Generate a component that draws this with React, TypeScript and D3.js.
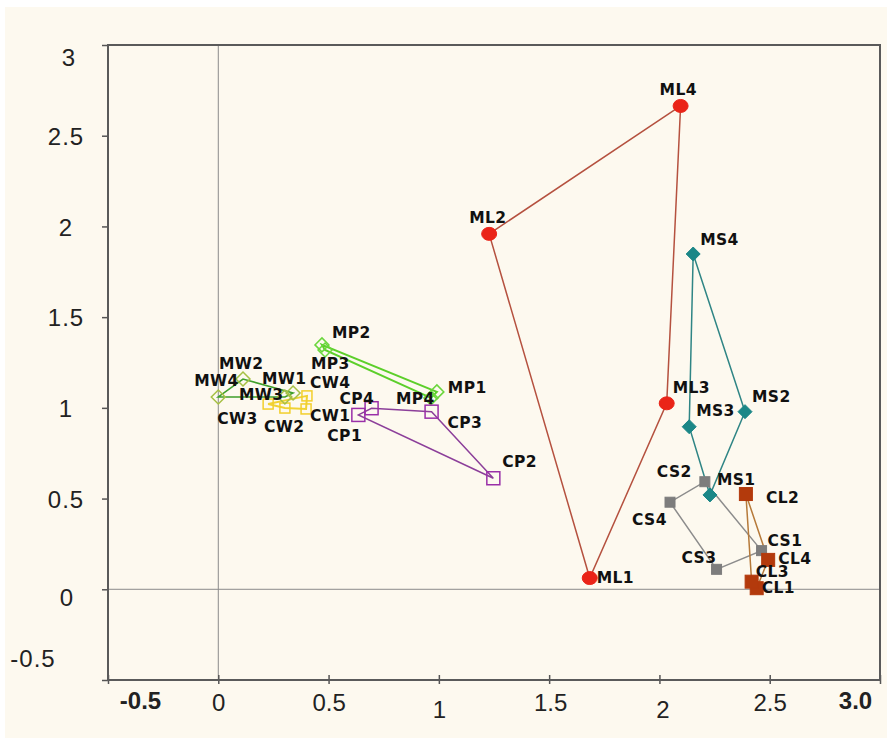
import React, { useEffect, useRef } from 'react';
import * as d3 from 'd3';

// point names and coordinates, one set per group
const mlNames = ['ML1', 'ML2', 'ML3', 'ML4'];
const mlX = [1.684, 1.228, 2.033, 2.096];
const mlY = [0.062, 1.959, 1.025, 2.664];

const msNames = ['MS1', 'MS2', 'MS3', 'MS4'];
const msX = [2.229, 2.388, 2.135, 2.153];
const msY = [0.52, 0.979, 0.896, 1.848];

const csNames = ['CS1', 'CS2', 'CS3', 'CS4'];
const csX = [2.463, 2.206, 2.259, 2.048];
const csY = [0.213, 0.593, 0.11, 0.48];

const clNames = ['CL1', 'CL2', 'CL3', 'CL4'];
const clX = [2.441, 2.392, 2.418, 2.493];
const clY = [0.006, 0.525, 0.042, 0.162];

const mpNames = ['MP1', 'MP2', 'MP3', 'MP4'];
const mpX = [0.991, 0.47, 0.484, 0.964];
const mpY = [1.088, 1.347, 1.319, 1.055];

const mwNames = ['MW1', 'MW2', 'MW3', 'MW4'];
const mwX = [0.339, 0.112, 0.302, 0.0];
const mwY = [1.082, 1.159, 1.06, 1.06];

const cwNames = ['CW1', 'CW2', 'CW3', 'CW4'];
const cwX = [0.398, 0.302, 0.226, 0.402];
const cwY = [0.994, 0.999, 1.021, 1.066];

const cpNames = ['CP1', 'CP2', 'CP3', 'CP4'];
const cpX = [0.635, 1.247, 0.967, 0.695];
const cpY = [0.961, 0.612, 0.979, 0.998];

const xTicks = [-0.5, 0, 0.5, 1, 1.5, 2, 2.5, 3];
const xTickLabels = ['-0.5', '0', '0.5', '1', '1.5', '2', '2.5', '3.0'];
const yTicks = [-0.5, 0, 0.5, 1, 1.5, 2, 2.5, 3];
const yTickLabels = ['-0.5', '0', '0.5', '1', '1.5', '2', '2.5', '3'];

// look of each group
const groups = [
  { names: cwNames, xs: cwX, ys: cwY, shape: 'square', size: 10, fill: 'none', stroke: '#f2cf2c', line: '#f0d232', lw: 2 },
  { names: mwNames, xs: mwX, ys: mwY, shape: 'diamond', size: 7, fill: 'none', stroke: '#a6c044', line: '#3f9f2a', lw: 1.6 },
  { names: mpNames, xs: mpX, ys: mpY, shape: 'diamond', size: 7, fill: 'none', stroke: '#6ad63c', line: '#5ccf2a', lw: 2 },
  { names: cpNames, xs: cpX, ys: cpY, shape: 'square', size: 13, fill: 'none', stroke: '#9a2fa8', line: '#8c3f9a', lw: 1.5 },
  { names: mlNames, xs: mlX, ys: mlY, shape: 'circle', size: 7, fill: '#ea2418', stroke: '#ea2418', line: '#b5513f', lw: 1.5 },
  { names: msNames, xs: msX, ys: msY, shape: 'diamond', size: 7, fill: '#1b8787', stroke: '#1b8787', line: '#2f8585', lw: 1.5 },
  { names: csNames, xs: csX, ys: csY, shape: 'square', size: 10, fill: '#7d7d7d', stroke: '#7d7d7d', line: '#8c8c8c', lw: 1.5 },
  { names: clNames, xs: clX, ys: clY, shape: 'square', size: 13, fill: '#b33a0c', stroke: '#b33a0c', line: '#b67a3a', lw: 1.5 },
];

// label position relative to its point (text start, baseline)
const labelOffset: Record<string, [number, number]> = {
  ML1: [7, 5], ML2: [-20, -11], ML3: [6, -10], ML4: [-21, -11],
  MS1: [7, -10], MS2: [7, -10], MS3: [7, -11], MS4: [7, -9],
  CS1: [6, -5], CS2: [-48, -5], CS3: [-35, -6], CS4: [-38, 23],
  CL1: [5, 5], CL2: [20, 9], CL3: [4, -5], CL4: [10, 4],
  MP1: [11, 1], MP2: [10, -7], MP3: [-14, 19], MP4: [-35, 6],
  MW1: [-31, -9], MW2: [-24, -10], MW3: [-46, 3], MW4: [-24, -11],
  CW1: [4, 12], CW2: [-21, 24], CW3: [-51, 20], CW4: [3, -8],
  CP1: [-31, 26], CP2: [9, -11], CP3: [16, 16], CP4: [-32, -4],
};

const width = 887;
const height = 738;

export default function App() {
  const ref = useRef<SVGSVGElement>(null);

  useEffect(() => {
    const svg = d3.select(ref.current);
    svg.selectAll('*').remove();

    const x = d3.scaleLinear().domain([-0.5, 3]).range([108, 880]);
    const y = d3.scaleLinear().domain([-0.5, 3]).range([680, 45]);

    svg.append('rect').attr('width', width).attr('height', height).attr('fill', '#ffffff');
    svg.append('rect').attr('x', 5).attr('y', 7).attr('width', width - 5).attr('height', height - 7).attr('fill', '#fdf9ef');

    // zero lines
    svg.append('line')
      .attr('x1', x(0)).attr('x2', x(0)).attr('y1', y(3)).attr('y2', y(-0.5))
      .attr('stroke', '#8a8a8a').attr('stroke-width', 1);
    svg.append('line')
      .attr('x1', x(-0.5)).attr('x2', x(3)).attr('y1', y(0)).attr('y2', y(0))
      .attr('stroke', '#8a8a8a').attr('stroke-width', 1);

    // y axis
    const yAxis = svg.append('g').attr('transform', `translate(${x(-0.5)},0)`)
      .call(d3.axisLeft(y).tickValues(yTicks).tickSize(6).tickFormat((d, i) => yTickLabels[i]));
    yAxis.select('.domain').remove();
    yAxis.selectAll('line').attr('stroke', '#555').attr('stroke-width', 1.5);
    const yNudge: Record<string, [number, number]> = { '3': [3, 12], '0': [1, 8], '-0.5': [-33, -22] };
    yAxis.selectAll<SVGTextElement, number>('text')
      .attr('font-family', 'Liberation Sans, Arial, sans-serif')
      .attr('font-size', 24)
      .attr('letter-spacing', 1)
      .attr('fill', '#222')
      .attr('text-anchor', 'middle')
      .attr('dy', '0.36em')
      .attr('x', (d, i) => -42 + (yNudge[yTickLabels[i]] || [0, 0])[0])
      .attr('y', (d, i) => (yNudge[yTickLabels[i]] || [0, 0])[1]);

    // x axis
    const xAxis = svg.append('g').attr('transform', `translate(0,${y(-0.5)})`)
      .call(d3.axisBottom(x).tickValues(xTicks).tickSize(5).tickFormat((d, i) => xTickLabels[i]));
    xAxis.select('.domain').remove();
    xAxis.selectAll('line').attr('y1', -5).attr('y2', 4).attr('stroke', '#555').attr('stroke-width', 1.5);
    const xNudge: Record<string, [number, number]> = { '-0.5': [32, 29], '1': [0, 38], '2': [3, 38], '3.0': [-25, 29], '1.5': [1, 31] };
    xAxis.selectAll<SVGTextElement, number>('text')
      .attr('font-family', 'Liberation Sans, Arial, sans-serif')
      .attr('font-size', 24)
      .attr('fill', '#222')
      .attr('dy', 0)
      .attr('font-weight', (d, i) => (xTickLabels[i] === '-0.5' || xTickLabels[i] === '3.0' ? 'bold' : 'normal'))
      .attr('x', (d, i) => (xNudge[xTickLabels[i]] || [0, 31])[0])
      .attr('y', (d, i) => (xNudge[xTickLabels[i]] || [0, 31])[1]);

    // frame
    svg.append('rect')
      .attr('x', x(-0.5)).attr('y', y(3))
      .attr('width', x(3) - x(-0.5)).attr('height', y(-0.5) - y(3))
      .attr('fill', 'none').attr('stroke', '#5a5a5a').attr('stroke-width', 2);

    const outline = d3.line().curve(d3.curveLinearClosed);

    // hull outlines
    groups.forEach(g => {
      const pts = g.xs.map((v, i) => [x(v), y(g.ys[i])] as [number, number]);
      const hull = d3.polygonHull(pts);
      if (hull) {
        svg.append('path')
          .attr('d', outline(hull))
          .attr('fill', 'none')
          .attr('stroke', g.line)
          .attr('stroke-width', g.lw);
      }
    });

    // markers
    groups.forEach(g => {
      const pts = g.xs.map((v, i) => ({ px: x(v), py: y(g.ys[i]) }));
      const sel = svg.append('g').selectAll('g').data(pts).enter().append('g')
        .attr('transform', d => `translate(${d.px},${d.py})`);
      if (g.shape === 'circle') {
        sel.append('ellipse').attr('rx', g.size + 0.5).attr('ry', g.size - 0.5)
          .attr('fill', g.fill).attr('stroke', g.stroke);
      } else if (g.shape === 'diamond') {
        const s = g.size;
        sel.append('path').attr('d', `M0,${-s}L${s},0L0,${s}L${-s},0Z`)
          .attr('fill', g.fill).attr('stroke', g.stroke).attr('stroke-width', g.fill === 'none' ? 1.5 : 1);
      } else {
        const s = g.size;
        sel.append('rect').attr('x', -s / 2).attr('y', -s / 2).attr('width', s).attr('height', s)
          .attr('fill', g.fill).attr('stroke', g.stroke).attr('stroke-width', g.fill === 'none' ? 1.5 : 1);
      }
    });

    // point labels
    groups.forEach(g => {
      svg.append('g').selectAll('text').data(g.names).enter().append('text')
        .attr('x', (d, i) => x(g.xs[i]) + labelOffset[d][0])
        .attr('y', (d, i) => y(g.ys[i]) + labelOffset[d][1])
        .attr('font-family', 'DejaVu Sans, sans-serif')
        .attr('font-weight', 'bold')
        .attr('font-size', 15.5)
        .attr('letter-spacing', 0.4)
        .attr('fill', '#111')
        .text(d => d);
    });
  }, []);

  return (
    <div style={{ position: 'absolute', left: 0, top: 0 }}>
      <svg ref={ref} width={width} height={height} />
    </div>
  );
}
